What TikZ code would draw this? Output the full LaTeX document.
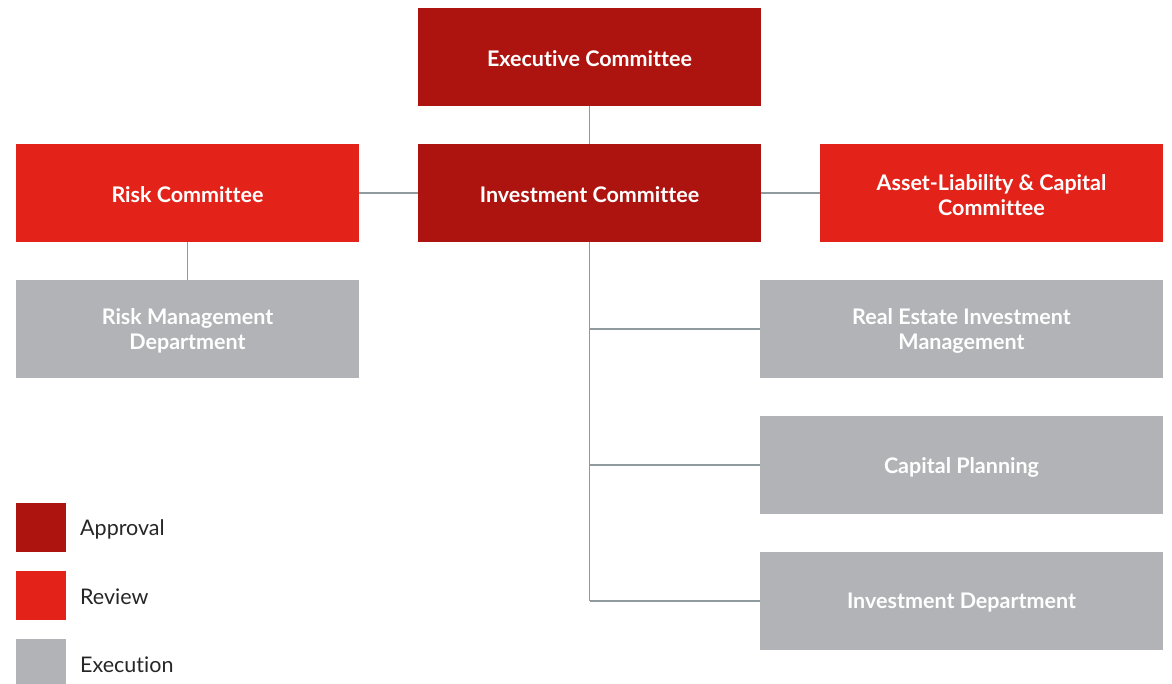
\documentclass[tikz,border=0pt]{standalone}
\usepackage{fontspec}
\setmainfont{Lato}[Ligatures={NoCommon}]
\begin{document}
\begin{tikzpicture}[x=1pt,y=-1pt,
  box/.style={rectangle, inner sep=0pt, minimum height=98pt},
  approval/.style={box, fill=approvalc, minimum width=343pt},
  review/.style={box, fill=reviewc, minimum width=343pt},
  execw/.style={box, fill=execc, minimum width=403pt},
  execn/.style={box, fill=execc, minimum width=343pt},
  lbl/.style={text=white, align=center, inner sep=0pt, font=\fontsize{21.5}{25}\selectfont\bfseries},
  conn/.style={draw=linec, line width=1.2pt},
  legsq/.style={rectangle, inner sep=0pt, minimum width=50pt, minimum height=49pt, anchor=north west},
  legtx/.style={anchor=west, inner sep=0pt, font=\fontsize{21.5}{25}\selectfont, text=black!85}
]
\definecolor{approvalc}{HTML}{AD1410}
\definecolor{reviewc}{HTML}{E32319}
\definecolor{execc}{HTML}{B1B3B6}
\definecolor{linec}{HTML}{8E9A9E}
\useasboundingbox (0,0) rectangle (1172,684);
\fill[white] (0,0) rectangle (1172,684);

\node[approval] (exec) at (589.5,57) {};
\node[approval] (inv) at (589.5,193) {};
\node[review] (risk) at (187.5,193) {};
\node[review] (alc) at (991.5,193) {};
\node[execn] (rmd) at (187.5,329) {};
\node[execw] (reim) at (961.5,329) {};
\node[execw] (cap) at (961.5,465) {};
\node[execw] (invd) at (961.5,601) {};

\node[lbl] (exect) at ([yshift=-2pt]exec.center) {Executive Committee};
\node[lbl] (invt) at ([yshift=-2pt]inv.center) {Investment Committee};
\node[lbl] (riskt) at ([yshift=-2pt]risk.center) {Risk Committee};
\node[lbl] (alct) at ([yshift=-2pt]alc.center) {Asset-Liability \& Capital\\Committee};
\node[lbl] (rmdt) at ([yshift=-2pt]rmd.center) {Risk Management\\Department};
\node[lbl] (reimt) at ([yshift=-2pt]reim.center) {Real Estate Investment\\Management};
\node[lbl] (capt) at ([yshift=-2pt]cap.center) {Capital Planning};
\node[lbl] (invdt) at ([yshift=-2pt]invd.center) {Investment Department};

\coordinate (j1) at (589.5,329);
\coordinate (j2) at (589.5,465);
\coordinate (j3) at (589.5,601);

\draw[conn] (exec.south) -- (inv.north);
\draw[conn] (risk.east) -- (inv.west);
\draw[conn] (inv.east) -- (alc.west);
\draw[conn] (risk.south) -- (rmd.north);
\draw[conn] (inv.south) -- (j3);
\draw[conn] (j1) -- (reim.west);
\draw[conn] (j2) -- (cap.west);
\draw[conn] (j3) -- (invd.west);

\node[legsq, fill=approvalc] (l1) at (16,503) {};
\node[legsq, fill=reviewc] (l2) at (16,571) {};
\node[legsq, fill=execc] (l3) at (16,639) {};
\node[legtx] (t1) at (80,529) {Approval};
\node[legtx] (t2) at (80,597) {Review};
\node[legtx] (t3) at (80,665) {Execution};
\end{tikzpicture}
\end{document}
